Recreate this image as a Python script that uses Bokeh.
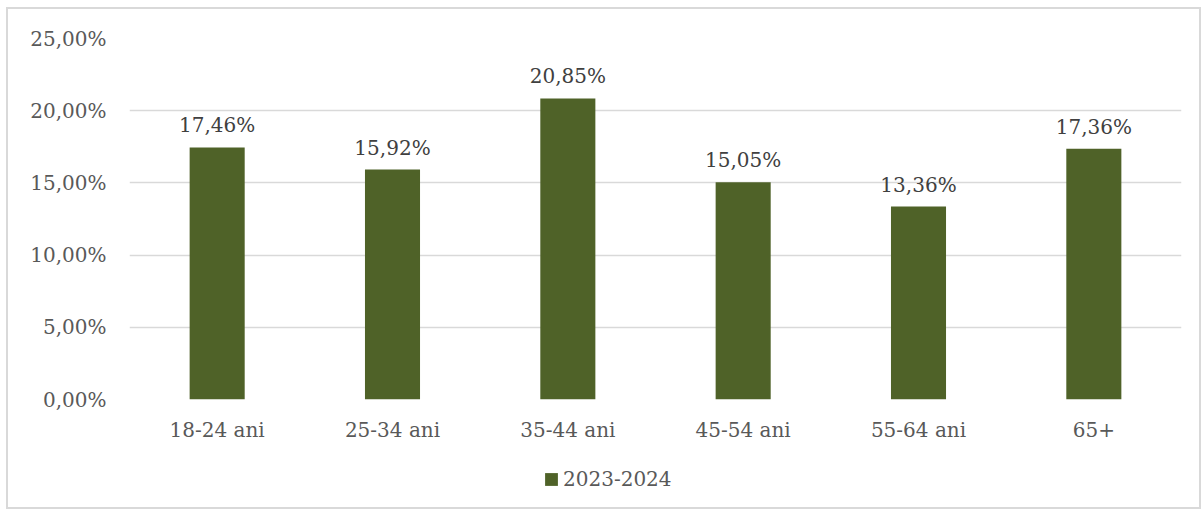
from bokeh.plotting import figure
from bokeh.layouts import column
from bokeh.models import ColumnDataSource, Range1d, FixedTicker, Legend, LegendItem, FactorRange
from bokeh.core.properties import value
from bokeh.embed import file_html
from bokeh.resources import INLINE

categories = ["18-24 ani", "25-34 ani", "35-44 ani", "45-54 ani", "55-64 ani", "65+"]
values = [17.46, 15.92, 20.85, 15.05, 13.36, 17.36]
labels = ["17,46%", "15,92%", "20,85%", "15,05%", "13,36%", "17,36%"]
series_name = "2023-2024"
y_ticks = [0, 5, 10, 15, 20, 25]
y_tick_labels = ["0,00%", "5,00%", "10,00%", "15,00%", "20,00%", "25,00%"]

FONT = "DejaVu Serif"
GREEN = "#4F6228"

src = ColumnDataSource(dict(cat=categories, val=values, lab=labels))

p = figure(x_range=FactorRange(*categories), y_range=Range1d(0, 25),
           width=1191, height=440, output_backend="svg", toolbar_location=None,
           min_border_left=121, min_border_right=18, min_border_top=29, min_border_bottom=50)
p.x_range.range_padding = 0
p.outline_line_color = None
p.background_fill_color = "white"

bars = p.vbar(x="cat", top="val", width=0.314, source=src, fill_color=GREEN, line_color=None)
p.text(x="cat", y="val", text="lab", source=src, text_align="center", text_baseline="alphabetic",
       y_offset=-22, text_font=value(FONT), text_font_size="20px", text_color="#404040")

p.xgrid.grid_line_color = None
p.ygrid.grid_line_color = "#D9D9D9"
p.ygrid.grid_line_width = 1.5
p.yaxis.ticker = FixedTicker(ticks=y_ticks)
p.yaxis.major_label_overrides = {t: l for t, l in zip(y_ticks, y_tick_labels)}

for ax in (p.xaxis, p.yaxis):
    ax.axis_line_color = None
    ax.major_tick_line_color = None
    ax.minor_tick_line_color = None
    ax.major_label_text_font = FONT
    ax.major_label_text_font_size = "20px"
    ax.major_label_text_color = "#595959"
p.xaxis.major_label_standoff = 12
p.yaxis.major_label_standoff = 17

# legend strip below the chart
p2 = figure(width=1191, height=58, x_range=Range1d(0, 1191), y_range=Range1d(0, 58),
            output_backend="svg", toolbar_location=None, x_axis_type=None, y_axis_type=None,
            min_border=0)
p2.grid.grid_line_color = None
p2.outline_line_color = None
dummy = p2.vbar(x=[-1000], top=[-1000], bottom=[-1001], width=1, fill_color=GREEN, line_color=None)
legend = Legend(items=[LegendItem(label=series_name, renderers=[dummy])],
                location=(414, 16), orientation="horizontal",
                label_text_font=FONT, label_text_font_size="20px", label_text_color="#595959",
                glyph_width=16, glyph_height=16, label_height=20, label_standoff=4,
                padding=0, margin=0, border_line_color=None, background_fill_alpha=0)
p2.add_layout(legend, "center")

layout = column(p, p2, spacing=0,
                styles={"border": "2px solid #D9D9D9", "margin-left": "6px", "margin-top": "7px"})

open("out.html", "w").write(file_html(layout, INLINE))
